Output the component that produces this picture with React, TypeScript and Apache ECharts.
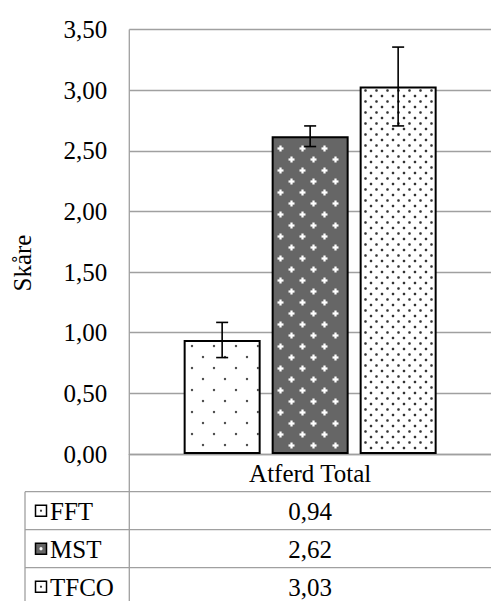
import React, { useEffect, useRef } from "react";
import * as echarts from "echarts";

const categories = ["Atferd Total"];
const seriesNames = ["FFT", "MST", "TFCO"];
const seriesValues = [0.94, 2.62, 3.03];
const errorValues = [0.145, 0.085, 0.325];
const yTicks = { min: 0, max: 3.5, interval: 0.5 };
const axisName = "Skåre";

const W = 491;
const H = 601;
const GRID_LEFT = 129.3;
const GRID_TOP = 29.5;
const GRID_W = 370;
const GRID_H = 424.5;
const BAR_W = 77;
const BAR_GAP = 11;
const LINE_COLOR = "#a0a0a0";
const TABLE_LEFT = 25;
const ROW_TOP = 491.7;
const ROW_H = 38;
const FONT = "Liberation Serif";
const BAR_FILLS = ["#ffffff", "#666666", "#ffffff"];

const fmt = (v: number) => v.toFixed(2).replace(".", ",");

// texture generators: return dot elements inside a rect [x0,x1]x[y0,y1]
function texture(kind: number, x0: number, y0: number, x1: number, y1: number, z: number) {
  const out: any[] = [];
  if (kind === 0 || kind === 2) {
    const p = kind === 0 ? 22 : 11;
    const r = kind === 0 ? 1.2 : 1.3;
    const col = kind === 0 ? "#444" : "#333";
    const offs = kind === 0 ? [[5, 5], [16, 16]] : [[2.5, 2.5], [8, 8]];
    for (let gy = Math.floor(y0 / p) * p; gy < y1 + p; gy += p)
      for (let gx = Math.floor(x0 / p) * p; gx < x1 + p; gx += p)
        offs.forEach(([ox, oy]) => {
          const cx = gx + ox;
          const cy = gy + oy;
          if (cx > x0 + 2 && cx < x1 - 2 && cy > y0 + 2 && cy < y1 - 1.5)
            out.push({ type: "circle", shape: { cx, cy, r }, style: { fill: col }, z, silent: true });
        });
  } else {
    const p = 22;
    const offs = [[5.5, 5.5], [16.5, 16.5]];
    for (let gy = Math.floor(y0 / p) * p; gy < y1 + p; gy += p)
      for (let gx = Math.floor(x0 / p) * p; gx < x1 + p; gx += p)
        offs.forEach(([ox, oy]) => {
          const cx = gx + ox;
          const cy = gy + oy;
          if (cx > x0 + 4 && cx < x1 - 4 && cy > y0 + 4 && cy < y1 - 3) {
            out.push({ type: "rect", shape: { x: cx - 1.1, y: cy - 3, width: 2.2, height: 6 }, style: { fill: "#fff" }, z, silent: true });
            out.push({ type: "rect", shape: { x: cx - 3, y: cy - 1.1, width: 6, height: 2.2 }, style: { fill: "#fff" }, z, silent: true });
          }
        });
  }
  return out;
}

export default function App() {
  const ref = useRef<HTMLDivElement>(null);
  useEffect(() => {
    if (!ref.current) return;
    document.body.style.margin = "0";
    const chart = echarts.init(ref.current, undefined, { renderer: "svg" });

    const barSeries = seriesNames.map((name, i) => ({
      name,
      type: "bar",
      data: [seriesValues[i]],
      barWidth: BAR_W,
      barGap: `${(BAR_GAP / BAR_W) * 100}%`,
      itemStyle: { color: BAR_FILLS[i], borderColor: "#000", borderWidth: 2 },
      z: 2,
    }));

    chart.setOption({
      animation: false,
      backgroundColor: "#fff",
      grid: { left: GRID_LEFT, top: GRID_TOP, width: GRID_W, height: GRID_H, containLabel: false },
      xAxis: {
        type: "category",
        data: categories,
        axisLine: { show: true, lineStyle: { color: LINE_COLOR, width: 1.3 } },
        axisTick: { show: false },
        axisLabel: { color: "#000", fontSize: 25, fontFamily: FONT, margin: 7 },
        splitLine: { show: false },
      },
      yAxis: {
        type: "value",
        min: yTicks.min,
        max: yTicks.max,
        interval: yTicks.interval,
        axisLine: { show: false },
        axisTick: { show: false },
        axisLabel: { color: "#000", fontSize: 25, fontFamily: FONT, margin: 22, formatter: (v: number) => fmt(v) },
        splitLine: { show: true, lineStyle: { color: LINE_COLOR, width: 1.3 } },
      },
      series: barSeries,
    });

    const cx0 = chart.convertToPixel({ xAxisIndex: 0 }, categories[0]) as number;
    const yPix = (v: number) => chart.convertToPixel({ yAxisIndex: 0 }, v) as number;
    const base = yPix(0);
    const centerX = cx0;

    const ts = (text: string, align: string) => ({
      text,
      fontSize: 25,
      fontFamily: FONT,
      fill: "#000",
      align,
      verticalAlign: "middle",
    });

    const graphics: any[] = [];
    // bar textures and error bars
    seriesValues.forEach((v, i) => {
      const bx = cx0 + (i - 1) * (BAR_W + BAR_GAP);
      const top = yPix(v);
      graphics.push(...texture(i, bx - BAR_W / 2, top, bx + BAR_W / 2, base, 5));
      const eTop = yPix(v + errorValues[i]);
      const eBot = yPix(v - errorValues[i]);
      const st = { stroke: "#000", lineWidth: 1.6 };
      graphics.push({ type: "line", shape: { x1: bx, y1: eTop, x2: bx, y2: eBot }, style: st, z: 20 });
      graphics.push({ type: "line", shape: { x1: bx - 6, y1: eTop, x2: bx + 6, y2: eTop }, style: st, z: 20 });
      graphics.push({ type: "line", shape: { x1: bx - 6, y1: eBot, x2: bx + 6, y2: eBot }, style: st, z: 20 });
    });
    // table
    graphics.push({
      type: "line",
      shape: { x1: GRID_LEFT, y1: GRID_TOP, x2: GRID_LEFT, y2: H },
      style: { stroke: LINE_COLOR, lineWidth: 1.3 },
      z: 1,
    });
    graphics.push({
      type: "line",
      shape: { x1: TABLE_LEFT, y1: ROW_TOP, x2: TABLE_LEFT, y2: H },
      style: { stroke: LINE_COLOR, lineWidth: 1.3 },
    });
    seriesNames.forEach((name, i) => {
      const y0 = ROW_TOP + i * ROW_H;
      graphics.push({
        type: "line",
        shape: { x1: TABLE_LEFT, y1: y0, x2: W, y2: y0 },
        style: { stroke: LINE_COLOR, lineWidth: 1.3 },
      });
      const cy = y0 + ROW_H / 2;
      graphics.push({
        type: "rect",
        shape: { x: 35.5, y: cy - 5.5, width: 11, height: 11 },
        style: { fill: BAR_FILLS[i], stroke: "#000", lineWidth: 1.5 },
        z: 10,
      });
      if (i === 1) {
        graphics.push({ type: "rect", shape: { x: 39.5, y: cy - 1, width: 3, height: 2 }, style: { fill: "#fff" }, z: 11 });
        graphics.push({ type: "rect", shape: { x: 40, y: cy - 1.5, width: 2, height: 3 }, style: { fill: "#fff" }, z: 11 });
      } else {
        graphics.push({ type: "circle", shape: { cx: 41, cy, r: 1.1 }, style: { fill: "#333" }, z: 11 });
      }
      graphics.push({ type: "text", x: 50, y: cy + 1, style: ts(name, "left") });
      graphics.push({ type: "text", x: centerX, y: cy + 1, style: ts(fmt(seriesValues[i]), "center") });
    });
    graphics.push({
      type: "text",
      x: 22,
      y: 263,
      rotation: Math.PI / 2,
      style: ts(axisName, "center"),
    });

    chart.setOption({ graphic: graphics });
    return () => chart.dispose();
  }, []);
  return (
    <>
      <style>{`#chart-box text { font-family: "Liberation Serif", "Times New Roman", serif !important; }`}</style>
      <div id="chart-box" ref={ref} style={{ width: W, height: H }} />
    </>
  );
}
